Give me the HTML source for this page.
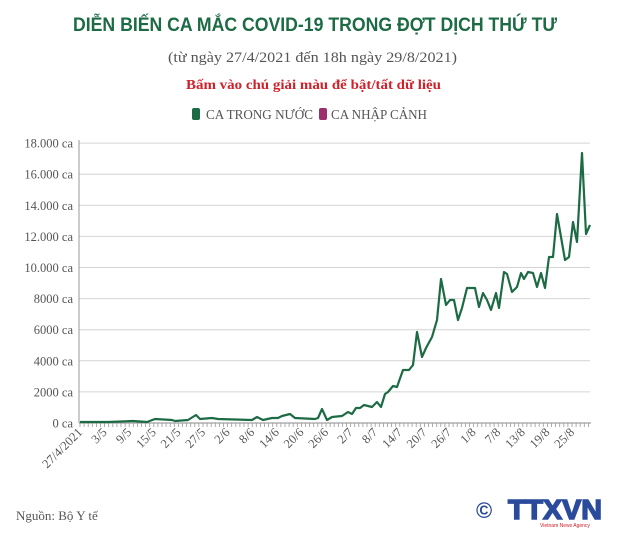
<!DOCTYPE html>
<html><head><meta charset="utf-8">
<style>
body{margin:0;background:#fff;width:630px;height:541px;overflow:hidden}
svg{display:block}
.s{font-family:"Liberation Serif",serif;fill:#555}
</style></head><body>
<svg id="c" width="630" height="541" xmlns="http://www.w3.org/2000/svg">
<text x="73" y="31" font-family="Liberation Sans, sans-serif" font-weight="bold" font-size="19" fill="#1d6b45" textLength="484" lengthAdjust="spacingAndGlyphs">DIỄN BIẾN CA MẮC COVID-19 TRONG ĐỢT DỊCH THỨ TƯ</text>
<text x="168" y="62" class="s" font-size="15" fill="#555" textLength="289" lengthAdjust="spacingAndGlyphs">(từ ngày 27/4/2021 đến 18h ngày 29/8/2021)</text>
<text x="186" y="89" font-family="Liberation Serif, serif" font-weight="bold" font-size="13.5" fill="#d0202a" textLength="255" lengthAdjust="spacingAndGlyphs">Bấm vào chú giải màu để bật/tất dữ liệu</text>
<rect x="192" y="108" width="8" height="12" rx="2" fill="#1d6b45"/>
<text x="206" y="119" class="s" font-size="14" textLength="107" lengthAdjust="spacingAndGlyphs">CA TRONG NƯỚC</text>
<rect x="319" y="108" width="8" height="12" rx="2" fill="#9c2f6e"/>
<text x="331" y="119" class="s" font-size="14" textLength="96" lengthAdjust="spacingAndGlyphs">CA NHẬP CẢNH</text>
<g id="grid"></g>
<polyline fill="none" stroke="#1d6b45" stroke-width="2.2" stroke-linejoin="round" points="80,422 108,422 133,421 147,422 155,419 172,420 175,421 188,420 196,415 200,419 212,418 218,419 252,420 257,417 263,420 272,418 278,418 282,416 290,414 295,418 315,419 318,418 322,409 327,420 332,417 342,416 348,412 352,414 356,408 360,408 364,405 372,407 377,402 381,407 385,394 388,392 393,386 397,387 403,370 409,370 413,365 417,332 422,357 426,348 432,337 437,320 441,279 446,305 450,300 454,300 458,320 462,308 467,288 475,288 479,307 483,293 487,300 491,310 496,293 499,308 504,272 507,274 512,292 517,287 521,273 524,279 528,272 533,273 537,287 541,273 545,288 549,257 553,257 557,214 561,237 565,260 569,257 573,222 577,242 582,153 586,234 590,225"/>
<text x="16" y="520" class="s" font-size="13" fill="#444">Nguồn: Bộ Y tế</text>
<text x="476" y="518" font-family="Liberation Sans, sans-serif" font-weight="bold" font-size="22" fill="#2a4a9c">©</text>
<text x="508" y="519" font-family="Liberation Sans, sans-serif" font-weight="bold" font-size="28" fill="#2a4a9c" stroke="#2a4a9c" stroke-width="1.5" textLength="94" lengthAdjust="spacingAndGlyphs">TTXVN</text>
<text x="540" y="527" font-family="Liberation Sans, sans-serif" font-size="5" fill="#d0202a">Vietnam News Agency</text>
</svg>
<script>
var g=document.getElementById('grid'),h='';
var lab=['0 ca','2000 ca','4000 ca','6000 ca','8000 ca','10.000 ca','12.000 ca','14.000 ca','16.000 ca','18.000 ca'];
for(var i=0;i<10;i++){var y=423-i*31.1;
if(i>0)h+='<line x1="79" x2="590" y1="'+y+'" y2="'+y+'" stroke="#d4d4d4" stroke-width="1"/>';
h+='<text x="73" y="'+(y+4.5)+'" text-anchor="end" class="s" font-size="12.5">'+lab[i]+'</text>';}
h+='<line x1="79" x2="79" y1="140" y2="423" stroke="#999"/>';
h+='<line x1="79" x2="591" y1="423" y2="423" stroke="#888"/>';
for(var d=0;d<=124;d++){var x=80+d*4.1;h+='<line x1="'+x+'" x2="'+x+'" y1="423" y2="427" stroke="#999" stroke-width="0.8"/>';}
var xl=['27/4/2021','3/5','9/5','15/5','21/5','27/5','2/6','8/6','14/6','20/6','26/6','2/7','8/7','14/7','20/7','26/7','1/8','7/8','13/8','19/8','25/8'];
for(var k=0;k<xl.length;k++){var x=80+k*6*4.1+3;h+='<text transform="translate('+x+',433) rotate(-45)" text-anchor="end" class="s" font-size="12.5">'+xl[k]+'</text>';}
g.innerHTML=h;
</script>
</body></html>
